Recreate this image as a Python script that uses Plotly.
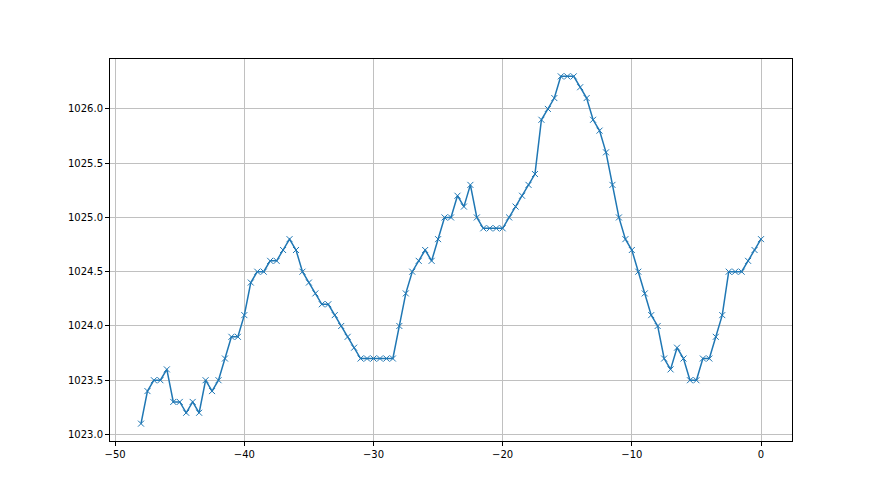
import plotly.graph_objects as go

x_values = [i * 0.5 - 48 for i in range(97)]
pressure = [
    1023.1, 1023.4, 1023.5, 1023.5, 1023.6, 1023.3, 1023.3, 1023.2, 1023.3, 1023.2,
    1023.5, 1023.4, 1023.5, 1023.7, 1023.9, 1023.9, 1024.1, 1024.4, 1024.5, 1024.5,
    1024.6, 1024.6, 1024.7, 1024.8, 1024.7, 1024.5, 1024.4, 1024.3, 1024.2, 1024.2,
    1024.1, 1024.0, 1023.9, 1023.8, 1023.7, 1023.7, 1023.7, 1023.7, 1023.7, 1023.7,
    1024.0, 1024.3, 1024.5, 1024.6, 1024.7, 1024.6, 1024.8, 1025.0, 1025.0, 1025.2,
    1025.1, 1025.3, 1025.0, 1024.9, 1024.9, 1024.9, 1024.9, 1025.0, 1025.1, 1025.2,
    1025.3, 1025.4, 1025.9, 1026.0, 1026.1, 1026.3, 1026.3, 1026.3, 1026.2, 1026.1,
    1025.9, 1025.8, 1025.6, 1025.3, 1025.0, 1024.8, 1024.7, 1024.5, 1024.3, 1024.1,
    1024.0, 1023.7, 1023.6, 1023.8, 1023.7, 1023.5, 1023.5, 1023.7, 1023.7, 1023.9,
    1024.1, 1024.5, 1024.5, 1024.5, 1024.6, 1024.7, 1024.8,
]
x_ticks = [-50, -40, -30, -20, -10, 0]
x_tick_labels = ["\u221250", "\u221240", "\u221230", "\u221220", "\u221210", "0"]
y_ticks = [1023.0, 1023.5, 1024.0, 1024.5, 1025.0, 1025.5, 1026.0]

color = "#1f77b4"
fig = go.Figure(go.Scatter(
    x=x_values, y=pressure, mode="lines+markers",
    line=dict(color=color, width=1.5),
    marker=dict(symbol="x-thin", size=6, line=dict(color=color, width=1)),
))

axis_common = dict(
    showline=True, linecolor="black", linewidth=1, mirror=True,
    ticks="outside", ticklen=4, tickcolor="black", tickwidth=1,
    showgrid=True, gridcolor="#c0c0c0", gridwidth=0.8, zeroline=False,
    tickfont=dict(family="DejaVu Sans", size=10, color="black"),
)
fig.update_xaxes(range=[-50.4, 2.4], tickvals=x_ticks, ticktext=x_tick_labels, **axis_common)
fig.update_yaxes(range=[1022.94, 1026.46], tickvals=y_ticks,
                 ticktext=[f"{v:.1f}" for v in y_ticks], **axis_common)
fig.update_layout(
    width=880, height=495, showlegend=False,
    margin=dict(l=102, r=96, t=51, b=62),
    plot_bgcolor="white", paper_bgcolor="white",
)
fig.write_html("out.html")
